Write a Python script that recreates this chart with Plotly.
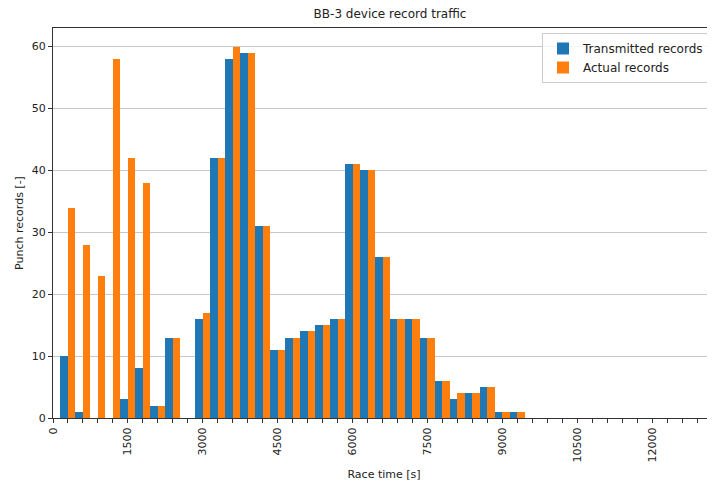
import plotly.graph_objects as go

# Race-time bins (s) – center of each group
race_time = [300, 600, 900, 1200, 1500, 1800, 2100, 2400, 2700, 3000,
             3300, 3600, 3900, 4200, 4500, 4800, 5100, 5400, 5700, 6000,
             6300, 6600, 6900, 7200, 7500, 7800, 8100, 8400, 8700, 9000, 9300]
transmitted = [10, 1, 0, 0, 3, 8, 2, 13, 0, 16,
               42, 58, 59, 31, 11, 13, 14, 15, 16, 41,
               40, 26, 16, 16, 13, 6, 3, 4, 5, 1, 1]
actual = [34, 28, 23, 58, 42, 38, 2, 13, 0, 17,
          42, 60, 59, 31, 11, 13, 14, 15, 16, 41,
          40, 26, 16, 16, 13, 6, 4, 4, 5, 1, 1]

tick_values = list(range(0, 13501, 300))
tick_labels = [str(v) if v % 1500 == 0 else "" for v in tick_values]
y_ticks = [0, 10, 20, 30, 40, 50, 60]

BLUE = "#1f77b4"
ORANGE = "#ff7f0e"
FONT = "DejaVu Sans"

fig = go.Figure()
fig.add_trace(go.Bar(x=race_time, y=transmitted, name="Transmitted records",
                     marker=dict(color=BLUE, line=dict(width=0))))
fig.add_trace(go.Bar(x=race_time, y=actual, name="Actual records",
                     marker=dict(color=ORANGE, line=dict(width=0))))

# page body has an 8px margin, so the figure is drawn at (8, 8)
OFF = 8
W, H = 715 - OFF, 488 - OFF
L, R, T = 53 - OFF, 0, 28 - OFF
B = H - (418 - OFF)
pw = W - L - R
ph = H - T - B

fig.update_layout(
    width=W, height=H,
    margin=dict(l=L, r=R, t=T, b=B, pad=0, autoexpand=False),
    paper_bgcolor="white", plot_bgcolor="white",
    barmode="group", bargap=0, bargroupgap=0,
    font=dict(family=FONT, size=10, color="#222"),
    title=dict(text="BB-3 device record traffic", xref="container",
               x=(390 - OFF) / W, xanchor="center",
               yref="container", y=1 - (14 - OFF) / H, yanchor="middle",
               font=dict(size=12, color="#222")),
    showlegend=True,
    legend=dict(x=(710 - OFF - L) / pw, xanchor="right",
                y=1 - (33 - OFF - T) / ph, yanchor="top",
                bgcolor="rgba(255,255,255,0.8)", bordercolor="#cccccc", borderwidth=1,
                font=dict(size=12, color="#222"), tracegroupgap=0),
    xaxis=dict(
        range=[0, 13260], automargin=False,
        tickmode="array", tickvals=tick_values, ticktext=tick_labels,
        tickangle=-90, ticks="outside", ticklen=4, tickwidth=1, tickcolor="#333",
        showline=True, linecolor="#333", linewidth=1, mirror=True,
        showgrid=False, zeroline=False,
        title=dict(text="Race time [s]", standoff=8, font=dict(size=11)),
        tickfont=dict(size=11),
    ),
    yaxis=dict(
        range=[0, 63], automargin=False,
        tickmode="array", tickvals=y_ticks,
        ticks="outside", ticklen=4, tickwidth=1, tickcolor="#333",
        showline=True, linecolor="#333", linewidth=1,
        showgrid=True, gridcolor="#c8c8c8", gridwidth=1,
        zeroline=False,
        title=dict(text="Punch records [-]", standoff=5, font=dict(size=11)),
        tickfont=dict(size=11),
    ),
)

fig.write_html("out.html")
